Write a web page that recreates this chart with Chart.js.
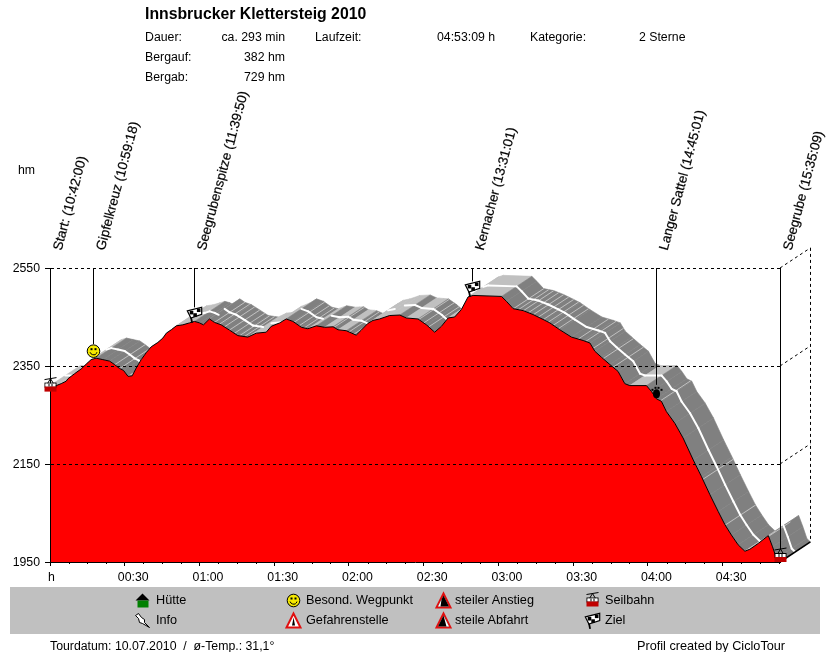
<!DOCTYPE html>
<html>
<head>
<meta charset="utf-8">
<title>Innsbrucker Klettersteig 2010</title>
<script src="https://cdn.jsdelivr.net/npm/chart.js@4"></script>
<style>
  html, body { margin: 0; padding: 0; background: #fff; }
  #page { position: relative; width: 830px; height: 652px; overflow: hidden;
          font: 12.3px "Liberation Sans", Arial, sans-serif; color: #000; }
  #page span { position: absolute; white-space: nowrap; line-height: 14px; }
  #page .r { text-align: right; }
  #page .big { font-size: 12.7px; }
  #title { font: bold 15.8px "Liberation Sans", Arial, sans-serif; left: 145px; top: 5px; line-height: 18px !important; }
  #legendBox { position: absolute; left: 10px; top: 587px; width: 810px; height: 47px; background: #c0c0c0; }
  #chart { position: absolute; left: 0; top: 0; }
  .ico { position: absolute; width: 20px; height: 20px; }
</style>
</head>
<body>
<div id="page">
  <div id="legendBox"></div>
  <canvas id="chart" width="830" height="652"></canvas>

  <span id="title">Innsbrucker Klettersteig 2010</span>
  <span style="left:145px;top:30px">Dauer:</span>
  <span class="r" style="left:205px;width:80px;top:30px">ca. 293 min</span>
  <span style="left:315px;top:30px">Laufzeit:</span>
  <span style="left:437px;top:30px">04:53:09 h</span>
  <span style="left:530px;top:30px">Kategorie:</span>
  <span style="left:639px;top:30px">2 Sterne</span>
  <span style="left:145px;top:50px">Bergauf:</span>
  <span class="r" style="left:205px;width:80px;top:50px">382 hm</span>
  <span style="left:145px;top:70px">Bergab:</span>
  <span class="r" style="left:205px;width:80px;top:70px">729 hm</span>
  <span style="left:18px;top:163px">hm</span>
  <span style="left:48px;top:570px">h</span>

  <canvas class="ico" data-icon="house" width="20" height="20" style="left:132px;top:590px"></canvas>
  <span class="big" style="left:156px;top:593px">Hütte</span>
  <canvas class="ico" data-icon="info" width="20" height="20" style="left:132px;top:610px"></canvas>
  <span class="big" style="left:156px;top:613px">Info</span>
  <canvas class="ico" data-icon="smile" width="20" height="20" style="left:283px;top:590px"></canvas>
  <span class="big" style="left:306px;top:593px">Besond. Wegpunkt</span>
  <canvas class="ico" data-icon="warn" width="20" height="20" style="left:283px;top:610px"></canvas>
  <span class="big" style="left:306px;top:613px">Gefahrenstelle</span>
  <canvas class="ico" data-icon="up" width="20" height="20" style="left:433px;top:590px"></canvas>
  <span class="big" style="left:455px;top:593px">steiler Anstieg</span>
  <canvas class="ico" data-icon="down" width="20" height="20" style="left:433px;top:610px"></canvas>
  <span class="big" style="left:455px;top:613px">steile Abfahrt</span>
  <canvas class="ico" data-icon="gondola" width="20" height="20" style="left:582px;top:590px"></canvas>
  <span class="big" style="left:605px;top:593px">Seilbahn</span>
  <canvas class="ico" data-icon="flag" width="20" height="20" style="left:582px;top:610px"></canvas>
  <span class="big" style="left:605px;top:613px">Ziel</span>

  <span style="left:50px;top:639px">Tourdatum: 10.07.2010&nbsp; /&nbsp; ø-Temp.: 31,1°</span>
  <span class="big" style="left:637px;top:639px">Profil created by CicloTour</span>
</div>

<script>
// ── Data ─────────────────────────────────────────────────────────
const profileMin = [
  0, 2.5, 4.5, 6.5, 7.2, 9.8, 12.5, 14.8, 16.5, 18.5, 21.2, 23.9, 25.9, 27.9, 29.5, 31.3, 33, 34.6,
  36.6, 38.6, 40.6, 43.3, 45.3, 46.7, 48.7, 50.7, 53.3, 56, 58, 60, 61.6, 64, 66, 68.7, 72.1, 75.4,
  79.4, 82.8, 86.8, 88.8, 92.2, 94.8, 97.5, 100.9, 103.5, 106.9, 110.2, 113.6, 115.6, 118.9, 122.9,
  124.9, 127.6, 129.6, 132.3, 136.3, 140.4, 143, 147.7, 151.1, 154.4, 157.1, 159.8, 162.4, 165.1,
  167.8, 169.8, 181.2, 183.2, 185.9, 189.9, 193.9, 197.9, 200.6, 204.6, 209.3, 214, 216.7, 218.7,
  221.3, 224.7, 228, 230.7, 232.7, 239.4, 241.4, 243.4, 245.4, 247.4, 250.8, 254.1, 258.2, 261.5,
  264.9, 268.2, 270.9, 273.5, 276.2, 278.9, 280.9, 284.3, 288.3, 290, 291.6, 293
];
const profileElev = [
  2310, 2310, 2314, 2319, 2324, 2334, 2344, 2355, 2363, 2366, 2363, 2360, 2353, 2345, 2341, 2329, 2330, 2346,
  2363, 2377, 2389, 2398, 2407, 2417, 2424, 2432, 2434, 2438, 2441, 2438, 2434, 2446, 2439, 2434, 2423, 2412,
  2409, 2417, 2419, 2431, 2438, 2446, 2441, 2429, 2426, 2432, 2429, 2430, 2424, 2422, 2413,
  2423, 2437, 2443, 2446, 2453, 2454, 2448, 2446, 2434, 2419, 2431, 2448, 2450, 2465,
  2491, 2494, 2492, 2482, 2467, 2463, 2455, 2445, 2438, 2424, 2409, 2402, 2397, 2380,
  2368, 2353, 2339, 2314, 2310, 2310, 2298, 2283, 2278, 2257, 2233, 2203, 2158, 2124,
  2087, 2053, 2026, 2005, 1985, 1972, 1976, 1988, 2004, 1981, 1957, 1950
];

const wayNames = [
  'Start: (10:42:00)', 'Gipfelkreuz (10:59:18)', 'Seegrubenspitze (11:39:50)',
  'Kernacher (13:31:01)', 'Langer Sattel (14:45:01)', 'Seegrube (15:35:09)'
];
const wayMin = [0, 17.3, 57.8, 169.4, 243.4, 293.1];
const wayElev = [2310, 2366, 2441, 2494, 2283, 1950];
const wayIcons = ['gondola', 'smile', 'flag', 'flag', 'paw', 'gondola'];

// thin light stripes across the grey ribbon
const stripeMin = [
  26, 28, 66, 68, 70, 72, 74, 76, 78, 98, 100, 102, 112, 114, 116, 118, 120, 122, 144, 146, 148, 150, 152,
  186, 188, 190, 192, 194, 196, 198, 200, 202, 204, 212, 215, 218, 222, 226, 245, 262, 271, 279, 285
];

const yTicks = [1950, 2150, 2350, 2550];
const xTicks = [0, 30, 60, 90, 120, 150, 180, 210, 240, 270];
const minorTicks = [7.5, 15, 22.5, 37.5, 45, 52.5, 67.5, 75, 82.5, 97.5, 105, 112.5, 127.5, 135, 142.5,
  157.5, 165, 172.5, 187.5, 195, 202.5, 217.5, 225, 232.5, 247.5, 255, 262.5, 277.5, 285, 292.5];

// 3D depth of the ribbon in axis units
const DEPTH_MIN = 12.2;
const DEPTH_ELEV = 41;


// ── Icons ────────────────────────────────────────────────────────
function drawIcon(ctx, type, x, y) {
  ctx.save();
  ctx.translate(x, y);
  ctx.lineWidth = 1;
  ctx.strokeStyle = '#000';
  ctx.fillStyle = '#000';

  if (type === 'gondola') {
    ctx.beginPath();
    ctx.moveTo(-6, -6); ctx.lineTo(6, -8);
    ctx.moveTo(0, -7); ctx.lineTo(-3, -2); ctx.moveTo(0, -7); ctx.lineTo(3, -2);
    ctx.stroke();
    ctx.strokeRect(-5.5, -2.5, 11, 4);
    ctx.fillStyle = '#fff';
    ctx.fillRect(-5, -2, 10, 3);
    ctx.fillStyle = '#000';
    ctx.fillRect(-2, -2, 1, 3);
    ctx.fillRect(1, -2, 1, 3);
    ctx.fillStyle = '#c00000';
    ctx.fillRect(-6, 1, 12, 5);
  } else if (type === 'smile') {
    ctx.fillStyle = '#f5e800';
    ctx.beginPath(); ctx.arc(0, 0, 6.3, 0, Math.PI * 2); ctx.fill(); ctx.stroke();
    ctx.fillStyle = '#000';
    ctx.fillRect(-3, -3, 2, 2);
    ctx.fillRect(1, -3, 2, 2);
    ctx.beginPath(); ctx.arc(0, 0, 3.6, 0.3, Math.PI - 0.3); ctx.stroke();
  } else if (type === 'flag') {
    ctx.scale(1.2, 1.2);
    ctx.lineWidth = 1.5;
    ctx.beginPath(); ctx.moveTo(-4, -3); ctx.lineTo(-2, 7); ctx.stroke();
    ctx.fillStyle = '#fff';
    ctx.beginPath(); ctx.moveTo(-6, -3); ctx.lineTo(6, -6); ctx.lineTo(6, 0); ctx.lineTo(-3, 3); ctx.closePath();
    ctx.fill();
    ctx.lineWidth = 1;
    ctx.stroke();
    ctx.fillStyle = '#000';
    ctx.fillRect(-4, -3, 3, 3);
    ctx.fillRect(2, -5, 3, 3);
    ctx.fillRect(-1, -1, 3, 3);
  } else if (type === 'paw') {
    ctx.beginPath(); ctx.ellipse(0, 2, 3.5, 4.5, 0, 0, Math.PI * 2); ctx.fill();
    ctx.fillRect(-5, -3, 2, 2);
    ctx.fillRect(-2, -5, 2, 2);
    ctx.fillRect(1, -5, 2, 2);
    ctx.fillRect(4, -3, 2, 2);
  } else if (type === 'house') {
    ctx.beginPath(); ctx.moveTo(-7, 0); ctx.lineTo(0, -7); ctx.lineTo(7, 0); ctx.closePath(); ctx.fill();
    ctx.fillStyle = '#008000';
    ctx.fillRect(-5, 0, 11, 7);
  } else if (type === 'info') {
    ctx.fillStyle = '#fff';
    ctx.beginPath();
    ctx.moveTo(-7, -5); ctx.lineTo(-4, -7); ctx.lineTo(-1, -3); ctx.lineTo(2, -1); ctx.lineTo(2, 2);
    ctx.lineTo(7, 7); ctx.lineTo(0, 3); ctx.lineTo(-3, 2); ctx.lineTo(-4, -2); ctx.closePath();
    ctx.fill(); ctx.stroke();
  } else if (type === 'warn' || type === 'up' || type === 'down') {
    ctx.fillStyle = '#fff';
    ctx.strokeStyle = '#e01010';
    ctx.lineWidth = 2;
    ctx.beginPath(); ctx.moveTo(0, -7); ctx.lineTo(7, 7); ctx.lineTo(-7, 7); ctx.closePath();
    ctx.fill(); ctx.stroke();
    ctx.fillStyle = '#000';
    ctx.beginPath();
    if (type === 'warn') {
      ctx.moveTo(0, -3); ctx.lineTo(1.5, 5); ctx.lineTo(-1.5, 5); ctx.closePath(); ctx.fill();
    } else if (type === 'up') {
      ctx.moveTo(-5.5, 6); ctx.lineTo(0, -5); ctx.lineTo(5.5, 6); ctx.closePath(); ctx.fill();
      ctx.fillStyle = '#fff';
      ctx.beginPath(); ctx.moveTo(-3, 6); ctx.lineTo(-5.5, 6); ctx.lineTo(-2, -1); ctx.closePath(); ctx.fill();
    } else {
      ctx.moveTo(-5.5, 6); ctx.lineTo(0, -5); ctx.lineTo(5.5, 6); ctx.closePath(); ctx.fill();
      ctx.fillStyle = '#fff';
      ctx.beginPath(); ctx.moveTo(3, 6); ctx.lineTo(5.5, 6); ctx.lineTo(0, -5); ctx.closePath(); ctx.fill();
    }
  }
  ctx.restore();
}

document.querySelectorAll('.ico').forEach(c => {
  drawIcon(c.getContext('2d'), c.dataset.icon, 10.5, 10.5);
});


// ── Plugins ──────────────────────────────────────────────────────
function elevAt(t) {
  for (let i = 1; i < profileMin.length; i++) {
    if (t <= profileMin[i]) {
      const f = (t - profileMin[i - 1]) / (profileMin[i] - profileMin[i - 1]);
      return profileElev[i - 1] + f * (profileElev[i] - profileElev[i - 1]);
    }
  }
  return profileElev[profileElev.length - 1];
}

// grey 3D ribbon behind the red profile
const ribbonPlugin = {
  id: 'ribbon',
  beforeDatasetsDraw(chart) {
    const { ctx, scales: { x, y } } = chart;
    const px = v => x.getPixelForValue(v);
    const py = v => y.getPixelForValue(v);

    ctx.save();

    for (let i = 1; i < profileMin.length; i++) {
      const t0 = profileMin[i - 1], t1 = profileMin[i];
      const e0 = profileElev[i - 1], e1 = profileElev[i];
      const col = e1 >= e0 - 2 ? '#c0c0c0' : '#808080';
      ctx.fillStyle = col;
      ctx.strokeStyle = col;
      ctx.lineWidth = 0.6;
      ctx.beginPath();
      ctx.moveTo(px(t0), py(e0));
      ctx.lineTo(px(t1), py(e1));
      ctx.lineTo(px(t1 + DEPTH_MIN), py(e1 + DEPTH_ELEV));
      ctx.lineTo(px(t0 + DEPTH_MIN), py(e0 + DEPTH_ELEV));
      ctx.closePath();
      ctx.fill();
      ctx.stroke();
    }

    ctx.strokeStyle = '#c0c0c0';
    ctx.lineWidth = 1;
    stripeMin.forEach(t => {
      const e = elevAt(t);
      ctx.beginPath();
      ctx.moveTo(px(t), py(e));
      ctx.lineTo(px(t + DEPTH_MIN), py(e + DEPTH_ELEV));
      ctx.stroke();
    });

    // white track in the middle of the ribbon
    ctx.strokeStyle = '#fff';
    ctx.lineWidth = 2;
    ctx.lineCap = 'round';
    for (let i = 1; i < profileMin.length; i++) {
      const t0 = profileMin[i - 1], t1 = profileMin[i];
      const e0 = profileElev[i - 1], e1 = profileElev[i];
      const rise = (py(e0) - py(e1)) / (px(t1) - px(t0));
      if (rise > 0.3) continue;
      ctx.beginPath();
      ctx.moveTo(px(t0 + DEPTH_MIN / 2), py(e0 + DEPTH_ELEV / 2));
      ctx.lineTo(px(t1 + DEPTH_MIN / 2), py(e1 + DEPTH_ELEV / 2));
      ctx.stroke();
    }

    ctx.restore();
  },

  afterDraw(chart) {
    const { ctx, chartArea, scales: { x, y } } = chart;
    const px = v => x.getPixelForValue(v);
    const py = v => y.getPixelForValue(v);
    const endT = x.max;

    ctx.save();

    // minor ticks on the time axis
    ctx.strokeStyle = '#000';
    ctx.lineWidth = 1;
    minorTicks.forEach(t => {
      const p = Math.round(px(t)) + 0.5;
      ctx.beginPath();
      ctx.moveTo(p, chartArea.bottom);
      ctx.lineTo(p, chartArea.bottom + 2);
      ctx.stroke();
    });

    // back wall of the box
    const dx = px(DEPTH_MIN) - px(0);
    const dy = py(1950) - py(1950 + DEPTH_ELEV);
    ctx.setLineDash([3, 3]);
    yTicks.slice(1).forEach(v => {
      ctx.beginPath();
      ctx.moveTo(px(endT), py(v));
      ctx.lineTo(px(endT) + dx, py(v) - dy);
      ctx.stroke();
    });
    ctx.beginPath();
    ctx.moveTo(Math.round(px(endT) + dx) + 0.5, py(2550) - dy);
    ctx.lineTo(Math.round(px(endT) + dx) + 0.5, py(1950) - dy);
    ctx.stroke();
    ctx.setLineDash([]);

    ctx.lineWidth = 1.5;
    ctx.beginPath();
    ctx.moveTo(px(endT), py(1950));
    ctx.lineTo(px(endT) + dx, py(1950) - dy);
    ctx.stroke();

    // waypoints: drop line, icon, slanted name
    wayNames.forEach((name, i) => {
      const p = Math.round(px(wayMin[i])) + 0.5;
      const lift = wayIcons[i] === 'gondola' ? (i === 0 ? 0 : 6) : 7;
      const iconY = py(wayElev[i]) - lift;
      ctx.strokeStyle = '#000';
      ctx.lineWidth = 1;
      ctx.beginPath();
      ctx.moveTo(p, chartArea.top);
      ctx.lineTo(p, iconY - 7);
      ctx.stroke();
      drawIcon(ctx, wayIcons[i], p, iconY);

      ctx.save();
      ctx.translate(p + 11, 251);
      ctx.rotate(-75 * Math.PI / 180);
      ctx.fillStyle = '#000';
      ctx.font = '13.4px "Liberation Sans", Arial, sans-serif';
      ctx.textAlign = 'left';
      ctx.textBaseline = 'alphabetic';
      ctx.fillText(name, 0, 0);
      ctx.strokeStyle = 'rgba(0,0,0,0.5)';
      ctx.lineWidth = 0.4;
      ctx.strokeText(name, 0, 0);
      ctx.restore();
    });

    ctx.restore();
  }
};


// ── Chart ────────────────────────────────────────────────────────
function timeLabel(v) {
  if (v === 0) return '';
  const h = Math.floor(v / 60);
  const m = v % 60;
  return String(h).padStart(2, '0') + ':' + String(m).padStart(2, '0');
}

new Chart(document.getElementById('chart'), {
  type: 'line',
  data: {
    datasets: [{
      data: profileMin.map((t, i) => ({ x: t, y: profileElev[i] })),
      borderColor: '#000',
      borderWidth: 1,
      backgroundColor: '#ff0000',
      fill: 'start',
      tension: 0,
      pointRadius: 0
    }]
  },
  options: {
    responsive: false,
    animation: false,
    events: [],
    layout: { padding: { left: 0, top: 268, right: 50, bottom: 64 } },
    plugins: { legend: { display: false }, tooltip: { enabled: false } },
    scales: {
      x: {
        type: 'linear',
        min: 0,
        max: 293,
        afterFit: s => { s.height = 26; },
        afterBuildTicks: s => { s.ticks = xTicks.map(v => ({ value: v })); },
        ticks: {
          color: '#000',
          maxRotation: 0,
          autoSkip: false,
          padding: 4,
          labelOffset: 8.5,
          font: { family: '"Liberation Sans", Arial, sans-serif', size: 12.3 },
          callback: timeLabel,
          z: 1
        },
        grid: { drawOnChartArea: false, tickLength: 4, tickColor: '#000', z: 1 },
        border: { color: '#000', z: 1 }
      },
      y: {
        min: 1950,
        max: 2550,
        afterFit: s => { s.width = 50; },
        afterBuildTicks: s => { s.ticks = yTicks.map(v => ({ value: v })); },
        ticks: {
          color: '#000',
          padding: 5,
          labelOffset: 1,
          font: { family: '"Liberation Sans", Arial, sans-serif', size: 12.3 },
          callback: v => String(v),
          z: 1
        },
        grid: { color: '#000', lineWidth: 1, tickLength: 5, tickColor: '#000', tickBorderDash: [], z: 1 },
        border: { color: '#000', dash: [3, 3], z: 1 }
      }
    }
  },
  plugins: [ribbonPlugin]
});
</script>
</body>
</html>
